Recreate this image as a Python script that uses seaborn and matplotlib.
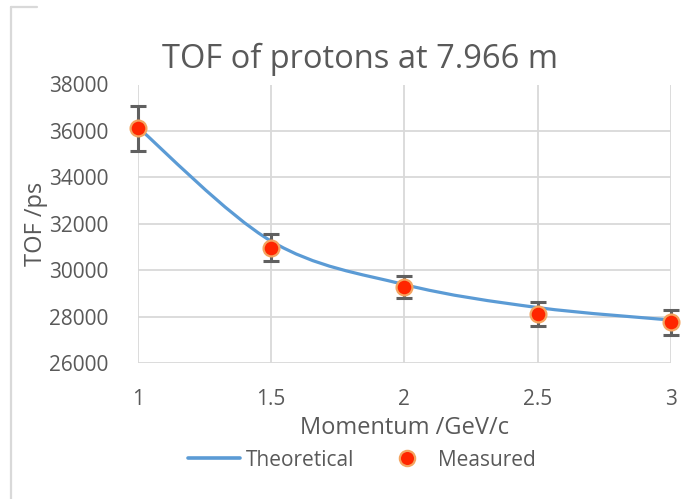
import matplotlib
matplotlib.use("Agg")
import matplotlib.pyplot as plt
from matplotlib.path import Path
from matplotlib.patches import PathPatch
from matplotlib.lines import Line2D
import numpy as np
import pandas as pd
import seaborn as sns

# data
momentum = [1.0, 1.5, 2.0, 2.5, 3.0]
tof_theory = [36150, 31250, 29380, 28390, 27850]
tof_measured = [36120, 30970, 29280, 28100, 27750]
tof_error = [970, 580, 480, 510, 540]

title = "TOF of protons at 7.966 m"
xlabel = "Momentum /GeV/c"
ylabel = "TOF /ps"

GREY_TXT = "#595959"
GRID = "#D9D9D9"
BLUE = "#5B9BD5"

sns.set_theme(style="whitegrid")
plt.rcParams["font.family"] = ["Open Sans", "DejaVu Sans"]

fig = plt.figure(figsize=(6.99, 4.99), dpi=100)
ax = fig.add_axes([138 / 699, 1 - 363 / 499, (670.7 - 138) / 699, (363 - 84.5) / 499])
ax.set_facecolor("white")

# smoothed theoretical line (Excel style catmull-rom bezier through the points)
pts = np.column_stack([momentum, tof_theory]).astype(float)
ext = np.vstack([pts[0], pts, pts[-1]])
verts = [tuple(pts[0])]
codes = [Path.MOVETO]
for i in range(len(pts) - 1):
    p0, p1, p2, p3 = ext[i], ext[i + 1], ext[i + 2], ext[i + 3]
    c1 = p1 + (p2 - p0) / 6
    c2 = p2 - (p3 - p1) / 6
    verts += [tuple(c1), tuple(c2), tuple(p2)]
    codes += [Path.CURVE4] * 3
ax.add_patch(PathPatch(Path(verts, codes), facecolor="none", edgecolor=BLUE,
                       lw=2.3, capstyle="round", zorder=3, clip_on=False))

# error bars + measured points
eb = ax.errorbar(momentum, tof_measured, yerr=tof_error, fmt="none", ecolor="#606060",
                 elinewidth=2.2, capsize=6, capthick=2.2, zorder=4)
for art in eb.lines[1] + eb.lines[2]:
    art.set_clip_on(False)
df = pd.DataFrame({"p": momentum, "tof": tof_measured})
sns.scatterplot(data=df, x="p", y="tof", ax=ax, s=130, color="#FF2600",
                edgecolor="#F4A460", linewidth=1.6, zorder=5, clip_on=False)

ax.set_xlim(1, 3)
ax.set_ylim(26000, 38000)
ax.set_xticks([1, 1.5, 2, 2.5, 3])
ax.set_xticklabels(["1", "1.5", "2", "2.5", "3"])
ax.set_yticks(np.arange(26000, 38001, 2000))
ax.grid(True, color=GRID, lw=1.3)
for s in ax.spines.values():
    s.set_visible(False)
ax.tick_params(axis="both", length=0, labelsize=15, colors=GREY_TXT)
ax.tick_params(axis="y", pad=21)
ax.tick_params(axis="x", pad=19)
ax.set_xlabel(xlabel, fontsize=17, color=GREY_TXT, labelpad=4)
ax.set_ylabel(ylabel, fontsize=17, color=GREY_TXT, labelpad=1)
fig.text(360 / 699, 1 - 59 / 499, title, fontsize=23.5, color=GREY_TXT,
         ha="center", va="center")

handles = [
    Line2D([], [], color=BLUE, lw=2.6),
    Line2D([], [], ls="none", marker="o", markersize=11, markerfacecolor="#FF2600",
           markeredgecolor="#F4A460", markeredgewidth=1.6),
]
fig.legend(handles, ["Theoretical", "Measured"], loc="center",
           bbox_to_anchor=(362 / 699, 1 - 460 / 499), ncol=2, frameon=False,
           fontsize=15, labelcolor=GREY_TXT, handlelength=2.5, handletextpad=0.25,
           columnspacing=1.3)

# piece of the chart frame on the left
fig.add_artist(Line2D([11 / 699, 11 / 699], [0, 1 - 7 / 499], color=GRID, lw=1.6,
                      transform=fig.transFigure))
fig.add_artist(Line2D([11 / 699, 37 / 699], [1 - 7 / 499, 1 - 7 / 499], color=GRID,
                      lw=1.6, transform=fig.transFigure))

fig.savefig("out.png", dpi=100)
